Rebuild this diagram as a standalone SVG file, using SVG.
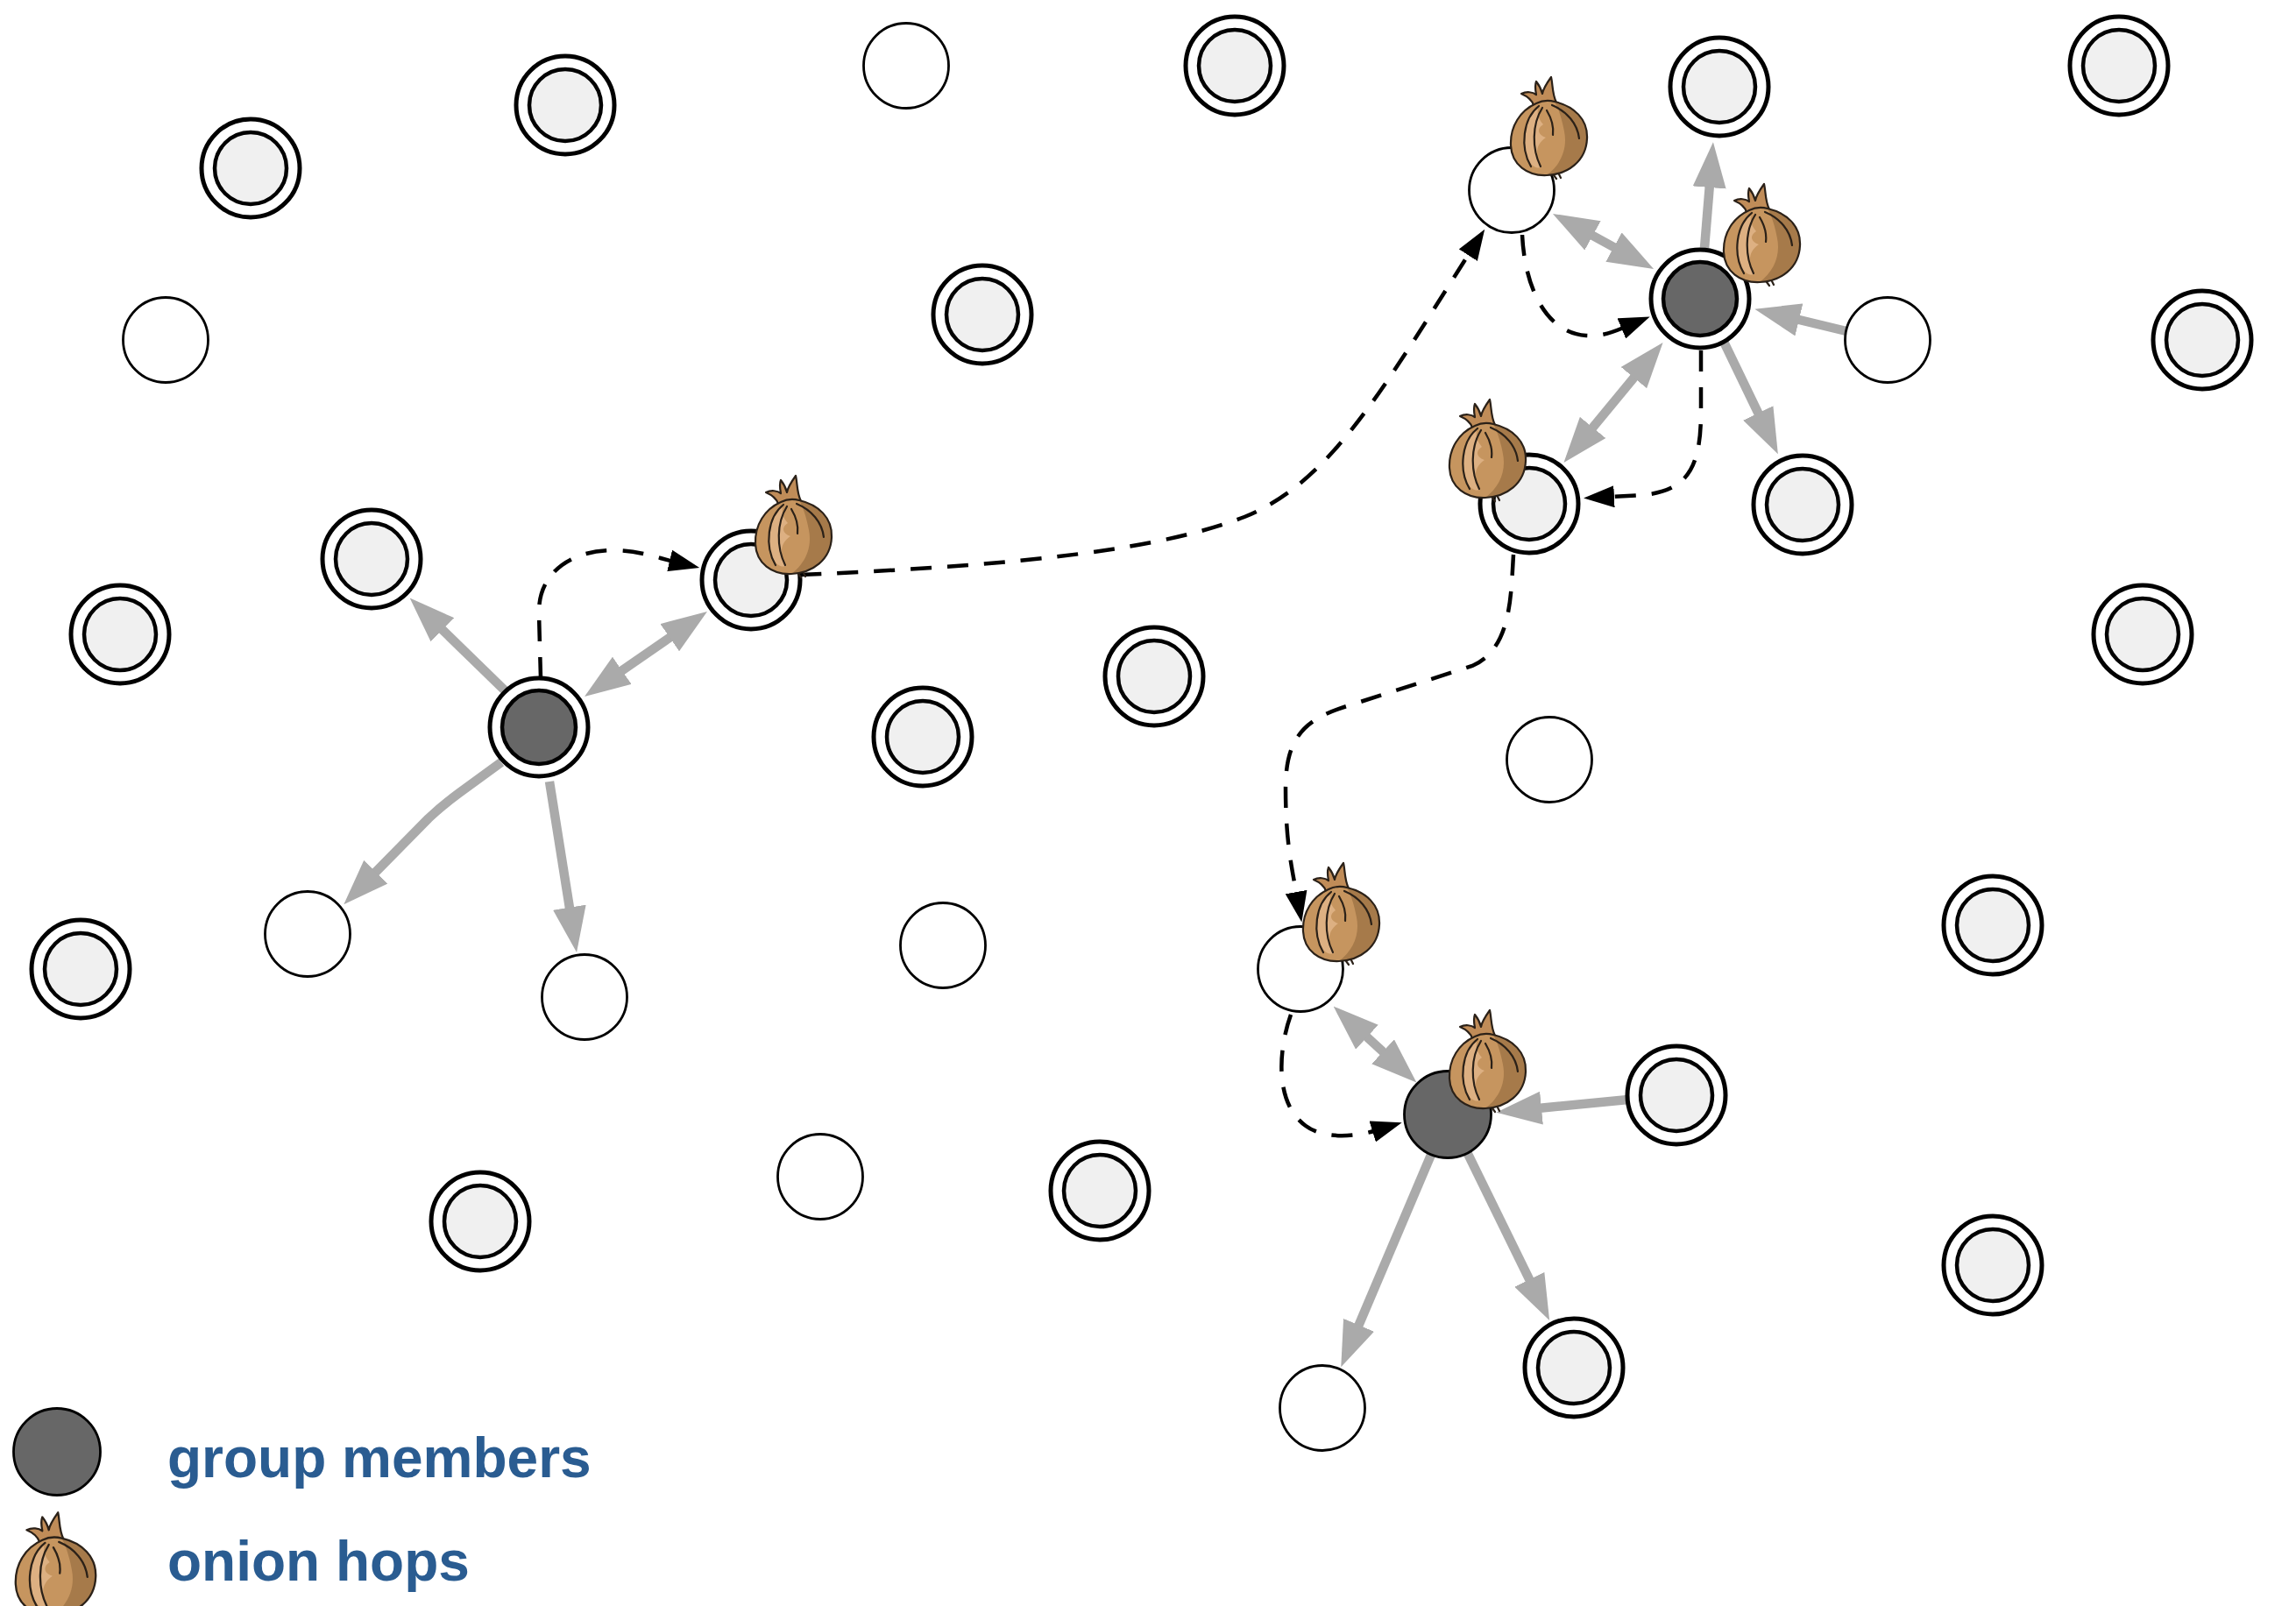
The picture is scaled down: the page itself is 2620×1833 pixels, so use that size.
<svg xmlns="http://www.w3.org/2000/svg" xmlns:xlink="http://www.w3.org/1999/xlink" width="2620" height="1833" viewBox="0 0 2620 1833">
  <style>
    .ring-o { fill: #ffffff; stroke: #000000; stroke-width: 5; }
    .ring-i { fill: #f0f0f0; stroke: #000000; stroke-width: 4.5; }
    .ring-m { fill: #676767; stroke: #000000; stroke-width: 4.5; }
    .plain { fill: #ffffff; stroke: #000000; stroke-width: 2.8; }
    .member { fill: #676767; stroke: #000000; stroke-width: 2.8; }
    .link { fill: none; stroke: #aaaaaa; stroke-width: 10.5; stroke-linejoin: round; marker-end: url(#grey-head); }
    .link2 { marker-start: url(#grey-head); }
    .route { fill: none; stroke: #000000; stroke-width: 4.5; stroke-dasharray: 24 18; marker-end: url(#black-head); }
    .legend { font-family: "Liberation Sans", Arial, Helvetica, sans-serif; font-weight: bold; font-size: 64px; fill: #2a5c91; }
    .on-fill { fill: #c6955f; }
    .on-line { fill: none; stroke: #2b2118; stroke-width: 2.2; stroke-linejoin: round; }
    .on-vein { fill: none; stroke: #2b2118; stroke-width: 2.2; stroke-linecap: round; }
  </style>
  <defs>
    <marker id="grey-head" markerUnits="userSpaceOnUse" viewBox="0 0 52 38" markerWidth="52" markerHeight="38" refX="4" refY="19" orient="auto-start-reverse">
      <path d="M0,0 L52,19 L0,38 Z" fill="#aaaaaa"/>
    </marker>
    <marker id="black-head" markerUnits="userSpaceOnUse" viewBox="0 0 35 25" markerWidth="35" markerHeight="25" refX="5" refY="12.5" orient="auto">
      <path d="M0,0 L35,12.5 L0,25 Z" fill="#000000"/>
    </marker>
    <!-- onion glyph, body centred on the origin -->
    <g id="onion">
      <!-- sprouting tuft -->
      <path fill="#c08c58" stroke="#2b2118" stroke-width="2.2" stroke-linejoin="round" d="M-17,-42 C-19,-48 -24,-52 -31,-55 C-25,-58 -18,-57 -14,-54 C-15,-59 -16,-64 -14,-69 C-10,-64 -8,-59 -7,-55 C-6,-61 -2,-67 3,-74 C5,-66 4,-55 9,-45 Z"/>
      <!-- bulb -->
      <path class="on-fill" d="M-14,-44 C-32,-36 -44,-18 -43,4 C-42,26 -24,39 -2,38 C22,37 43,22 44,-4 C45,-26 29,-41 7,-46 C0,-48 -8,-47 -14,-44 Z"/>
      <!-- shaded right side -->
      <path fill="#a67a4a" d="M7,-46 C29,-41 45,-26 44,-4 C43,22 22,37 -2,38 C14,26 22,8 18,-12 C15,-28 11,-39 7,-46 Z"/>
      <!-- light streak -->
      <path fill="#ddb082" d="M-12,-38 C-27,-26 -32,-4 -24,20 C-19,28 -13,31 -8,29 C-16,16 -15,3 -3,-5 C-12,-8 -14,-15 -6,-20 C-12,-27 -13,-33 -12,-38 Z"/>
      <path class="on-line" d="M-14,-44 C-32,-36 -44,-18 -43,4 C-42,26 -24,39 -2,38 C22,37 43,22 44,-4 C45,-26 29,-41 7,-46 C0,-48 -8,-47 -14,-44 Z"/>
      <!-- bulb ribs -->
      <path class="on-vein" d="M-11,-41 C-29,-27 -33,6 -20,28"/>
      <path class="on-vein" d="M-7,-39 C-19,-20 -19,8 -9,28"/>
      <path class="on-vein" d="M4,-42 C21,-35 33,-21 35,-4"/>
      <path class="on-vein" d="M-2,-36 C4,-26 6,-16 5,-8"/>
      <path class="on-vein" d="M6,38 L9,42 M12,37 L14,41"/>
    </g>
  </defs>

  <rect width="2620" height="1833" fill="#ffffff"/>

  <!-- connectors -->
  <g id="connectors">
    <!-- first group member -->
    <path class="link" d="M578,790 L502,716"/>
    <path class="link link2" d="M706.5,767.6 L767.5,725.4"/>
    <path class="link" d="M572,870 L524,905 Q505,919 489,934 L426,998"/>
    <path class="link" d="M627,892 L650.5,1039.6"/>
    <!-- second group member -->
    <path class="link" d="M1945,283 L1951,210"/>
    <path class="link link2" d="M1814,267 L1845,284"/>
    <path class="link" d="M2107,378 L2049,364"/>
    <path class="link" d="M1967,390 L2008,475"/>
    <path class="link link2" d="M1815,491 L1867,428"/>
    <!-- third group member -->
    <path class="link link2" d="M1557,1181 L1581,1203"/>
    <path class="link" d="M1858,1255 L1755,1265"/>
    <path class="link" d="M1633,1318 L1549,1516"/>
    <path class="link" d="M1675,1317 L1747,1464"/>
    <!-- onion route -->
    <path class="route" d="M617,774 L615,700 C614,655 650,628 700,628 C728,628 748,636 769,641"/>
    <path class="route" d="M913,656 C1180,645 1330,625 1420,590 C1520,550 1580,440 1678,287"/>
    <path class="route" d="M1737,268 C1740,330 1765,380 1810,383 C1830,384 1843,378 1855,373"/>
    <path class="route" d="M1941,400 L1941,470 C1941,535 1925,560 1875,565 L1837,567"/>
    <path class="route" d="M1727,633 C1724,680 1725,740 1680,760 L1540,805 C1490,820 1467,840 1467,900 C1467,960 1474,990 1480,1023"/>
    <path class="route" d="M1473,1158 C1458,1200 1455,1260 1490,1285 C1510,1300 1545,1298 1571,1290"/>
  </g>

  <!-- relay nodes -->
  <g id="n-286-192"><circle class="ring-o" cx="286" cy="192" r="56"/><circle class="ring-i" cx="286" cy="192" r="41"/></g>
  <g id="n-645-120"><circle class="ring-o" cx="645" cy="120" r="56"/><circle class="ring-i" cx="645" cy="120" r="41"/></g>
  <g id="n-1409-75"><circle class="ring-o" cx="1409" cy="75" r="56"/><circle class="ring-i" cx="1409" cy="75" r="41"/></g>
  <g id="n-1962-99"><circle class="ring-o" cx="1962" cy="99" r="56"/><circle class="ring-i" cx="1962" cy="99" r="41"/></g>
  <g id="n-2418-75"><circle class="ring-o" cx="2418" cy="75" r="56"/><circle class="ring-i" cx="2418" cy="75" r="41"/></g>
  <g id="n-1121-359"><circle class="ring-o" cx="1121" cy="359" r="56"/><circle class="ring-i" cx="1121" cy="359" r="41"/></g>
  <g id="n-2513-388"><circle class="ring-o" cx="2513" cy="388" r="56"/><circle class="ring-i" cx="2513" cy="388" r="41"/></g>
  <g id="n-424-638"><circle class="ring-o" cx="424" cy="638" r="56"/><circle class="ring-i" cx="424" cy="638" r="41"/></g>
  <g id="n-137-724"><circle class="ring-o" cx="137" cy="724" r="56"/><circle class="ring-i" cx="137" cy="724" r="41"/></g>
  <g id="n-1317-772"><circle class="ring-o" cx="1317" cy="772" r="56"/><circle class="ring-i" cx="1317" cy="772" r="41"/></g>
  <g id="n-1053-841"><circle class="ring-o" cx="1053" cy="841" r="56"/><circle class="ring-i" cx="1053" cy="841" r="41"/></g>
  <g id="n-2057-576"><circle class="ring-o" cx="2057" cy="576" r="56"/><circle class="ring-i" cx="2057" cy="576" r="41"/></g>
  <g id="n-2445-724"><circle class="ring-o" cx="2445" cy="724" r="56"/><circle class="ring-i" cx="2445" cy="724" r="41"/></g>
  <g id="n-92-1106"><circle class="ring-o" cx="92" cy="1106" r="56"/><circle class="ring-i" cx="92" cy="1106" r="41"/></g>
  <g id="n-2274-1056"><circle class="ring-o" cx="2274" cy="1056" r="56"/><circle class="ring-i" cx="2274" cy="1056" r="41"/></g>
  <g id="n-1913-1250"><circle class="ring-o" cx="1913" cy="1250" r="56"/><circle class="ring-i" cx="1913" cy="1250" r="41"/></g>
  <g id="n-548-1394"><circle class="ring-o" cx="548" cy="1394" r="56"/><circle class="ring-i" cx="548" cy="1394" r="41"/></g>
  <g id="n-1255-1359"><circle class="ring-o" cx="1255" cy="1359" r="56"/><circle class="ring-i" cx="1255" cy="1359" r="41"/></g>
  <g id="n-2274-1444"><circle class="ring-o" cx="2274" cy="1444" r="56"/><circle class="ring-i" cx="2274" cy="1444" r="41"/></g>
  <g id="n-1796-1561"><circle class="ring-o" cx="1796" cy="1561" r="56"/><circle class="ring-i" cx="1796" cy="1561" r="41"/></g>

  <!-- plain peers -->
  <g id="p-1034-75"><circle class="plain" cx="1034" cy="75" r="48.5"/></g>
  <g id="p-189-388"><circle class="plain" cx="189" cy="388" r="48.5"/></g>
  <g id="p-2154-388"><circle class="plain" cx="2154" cy="388" r="48.5"/></g>
  <g id="p-1768-867"><circle class="plain" cx="1768" cy="867" r="48.5"/></g>
  <g id="p-351-1066"><circle class="plain" cx="351" cy="1066" r="48.5"/></g>
  <g id="p-667-1138"><circle class="plain" cx="667" cy="1138" r="48.5"/></g>
  <g id="p-1076-1079"><circle class="plain" cx="1076" cy="1079" r="48.5"/></g>
  <g id="p-936-1343"><circle class="plain" cx="936" cy="1343" r="48.5"/></g>
  <g id="p-1509-1607"><circle class="plain" cx="1509" cy="1607" r="48.5"/></g>

  <!-- onion hops -->
  <g id="hop-857-662"><circle class="ring-o" cx="857" cy="662" r="56"/><circle class="ring-i" cx="857" cy="662" r="41"/><use xlink:href="#onion" href="#onion" transform="translate(905,617)"/></g>
  <g id="hop-1725-217"><circle class="plain" cx="1725" cy="217" r="48.5"/><use xlink:href="#onion" href="#onion" transform="translate(1767,162)"/></g>
  <g id="hop-1745-575"><circle class="ring-o" cx="1745" cy="575" r="56"/><circle class="ring-i" cx="1745" cy="575" r="41"/><use xlink:href="#onion" href="#onion" transform="translate(1697,530)"/></g>
  <g id="hop-1484-1106"><circle class="plain" cx="1484" cy="1106" r="48.5"/><use xlink:href="#onion" href="#onion" transform="translate(1530,1059)"/></g>

  <!-- group members -->
  <g id="member-615-830"><circle class="ring-o" cx="615" cy="830" r="56"/><circle class="ring-m" cx="615" cy="830" r="42"/></g>
  <g id="member-1940-341"><circle class="ring-o" cx="1940" cy="341" r="56"/><circle class="ring-m" cx="1940" cy="341" r="42"/><use xlink:href="#onion" href="#onion" transform="translate(2010,284)"/></g>
  <g id="member-1652-1272"><circle class="member" cx="1652" cy="1272" r="49.5"/><use xlink:href="#onion" href="#onion" transform="translate(1697,1227)"/></g>

  <!-- legend -->
  <g id="legend">
    <circle class="member" cx="65" cy="1657" r="49.5"/>
    <text class="legend" x="191" y="1686">group members</text>
    <use xlink:href="#onion" href="#onion" transform="translate(63,1804) scale(1.05)"/>
    <text class="legend" x="191" y="1804">onion hops</text>
  </g>
</svg>
